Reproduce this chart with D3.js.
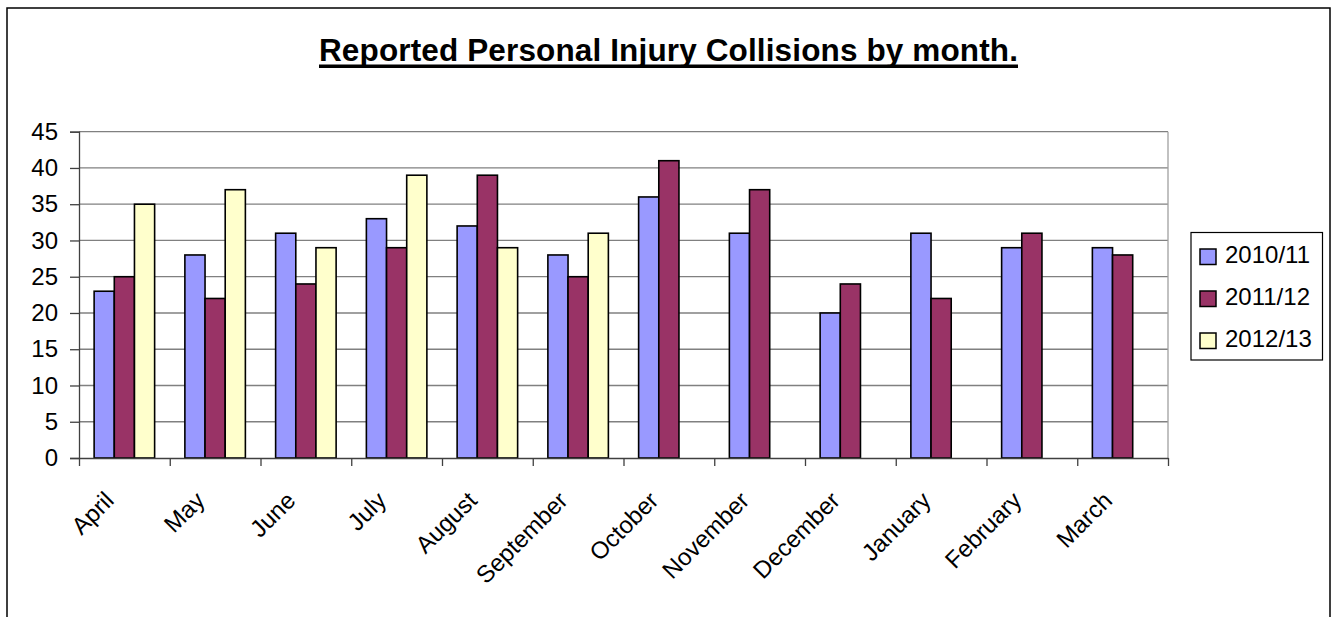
<!DOCTYPE html>
<html>
<head>
<meta charset="utf-8">
<script src="https://cdn.jsdelivr.net/npm/d3@7"></script>
<style>
  html, body { margin: 0; padding: 0; background: #fff; }
  svg { display: block; font-family: "Liberation Sans", Arial, sans-serif; }
</style>
</head>
<body>
<div id="chart"></div>
<script>
// chart data
const months = ["April", "May", "June", "July", "August", "September",
                "October", "November", "December", "January", "February", "March"];
const seriesNames = ["2010/11", "2011/12", "2012/13"];
const values2010 = [23, 28, 31, 33, 32, 28, 36, 31, 20, 31, 29, 29];
const values2011 = [25, 22, 24, 29, 39, 25, 41, 37, 24, 22, 31, 28];
const values2012 = [35, 37, 29, 39, 29, 31, null, null, null, null, null, null];
const seriesColors = ["#9999ff", "#993366", "#ffffcc"];
const yTickValues = [0, 5, 10, 15, 20, 25, 30, 35, 40, 45];
const titleText = "Reported Personal Injury Collisions by month.";

const allValues = [values2010, values2011, values2012];

const W = 1333, H = 617;
const plot = { left: 79, right: 1168, top: 131.7, bottom: 458 };

const svg = d3.select("#chart")
  .append("svg")
  .attr("width", W)
  .attr("height", H);

// outer chart frame (bottom runs off the picture)
svg.append("rect")
  .attr("x", 7)
  .attr("y", 8)
  .attr("width", 1323)
  .attr("height", 640)
  .attr("fill", "#fff")
  .attr("stroke", "#000")
  .attr("stroke-width", 1.5);

// title with thick underline
svg.append("text")
  .attr("x", 668.5)
  .attr("y", 61)
  .attr("text-anchor", "middle")
  .attr("font-size", 31.5)
  .attr("font-weight", "bold")
  .attr("textLength", 699)
  .text(titleText);

svg.append("rect")
  .attr("x", 319)
  .attr("y", 64.5)
  .attr("width", 699)
  .attr("height", 3.5)
  .attr("fill", "#000");

// scales
const x0 = d3.scaleBand()
  .domain(months)
  .range([plot.left, plot.right])
  .padding(0);

const x1 = d3.scaleBand()
  .domain(seriesNames)
  .range([0, x0.bandwidth()])
  .paddingInner(0)
  .paddingOuter(0.75);

const y = d3.scaleLinear()
  .domain([0, 45])
  .range([plot.bottom, plot.top]);

// gridlines
svg.append("g")
  .selectAll("line")
  .data(yTickValues.filter(d => d > 0))
  .join("line")
  .attr("x1", plot.left)
  .attr("x2", plot.right)
  .attr("y1", d => y(d))
  .attr("y2", d => y(d))
  .attr("stroke", "#808080")
  .attr("stroke-width", 1.3);

// right side of plot area
svg.append("line")
  .attr("x1", plot.right)
  .attr("x2", plot.right)
  .attr("y1", plot.top)
  .attr("y2", plot.bottom)
  .attr("stroke", "#a0a0a0")
  .attr("stroke-width", 1.3);

// bars
const groups = svg.append("g")
  .selectAll("g")
  .data(months)
  .join("g")
  .attr("transform", d => `translate(${x0(d)},0)`);

groups.selectAll("rect")
  .data((m, i) => seriesNames.map((s, k) => ({ series: s, idx: k, value: allValues[k][i] }))
    .filter(d => d.value !== null))
  .join("rect")
  .attr("x", d => x1(d.series))
  .attr("y", d => y(d.value))
  .attr("width", x1.bandwidth())
  .attr("height", d => y(0) - y(d.value))
  .attr("fill", d => seriesColors[d.idx])
  .attr("stroke", "#000")
  .attr("stroke-width", 1.6);

// y axis
const yAxis = svg.append("g")
  .attr("transform", `translate(${plot.left},0)`)
  .call(d3.axisLeft(y).tickValues(yTickValues).tickSize(9).tickPadding(12));
yAxis.select(".domain").attr("stroke", "#404040").attr("stroke-width", 1.3);
yAxis.selectAll(".tick line").attr("stroke", "#404040").attr("stroke-width", 1.3);
yAxis.selectAll(".tick text")
  .attr("font-size", 24)
  .attr("font-family", "Liberation Sans, Arial, sans-serif")
  .attr("fill", "#000");

// x axis: ticks sit between categories
const xEdges = d3.scaleLinear().domain([0, months.length]).range([plot.left, plot.right]);
const xAxis = svg.append("g")
  .attr("transform", `translate(0,${plot.bottom})`)
  .call(d3.axisBottom(xEdges).tickValues(d3.range(0, months.length + 1)).tickSize(8).tickSizeOuter(0).tickFormat(""));
xAxis.select(".domain").attr("stroke", "#404040").attr("stroke-width", 1.3);
xAxis.selectAll(".tick line").attr("stroke", "#404040").attr("stroke-width", 1.3);

// rotated month labels
svg.append("g")
  .selectAll("text")
  .data(months)
  .join("text")
  .attr("transform", d => `translate(${x0(d) + x0.bandwidth() / 2 - 9},502) rotate(-45)`)
  .attr("text-anchor", "end")
  .attr("font-size", 24)
  .attr("fill", "#000")
  .text(d => d);

// legend
const legend = svg.append("g");
legend.append("rect")
  .attr("x", 1191)
  .attr("y", 232.5)
  .attr("width", 131.5)
  .attr("height", 127.5)
  .attr("fill", "#fff")
  .attr("stroke", "#000")
  .attr("stroke-width", 1.2);

const legendItems = legend.selectAll("g")
  .data(seriesNames)
  .join("g")
  .attr("transform", (d, i) => `translate(1200,${249 + i * 42})`);

legendItems.append("rect")
  .attr("width", 16)
  .attr("height", 15.5)
  .attr("fill", (d, i) => seriesColors[i])
  .attr("stroke", "#000")
  .attr("stroke-width", 1.5);

legendItems.append("text")
  .attr("x", 25)
  .attr("y", 13.5)
  .attr("font-size", 24)
  .attr("fill", "#000")
  .text(d => d);
</script>
</body>
</html>
